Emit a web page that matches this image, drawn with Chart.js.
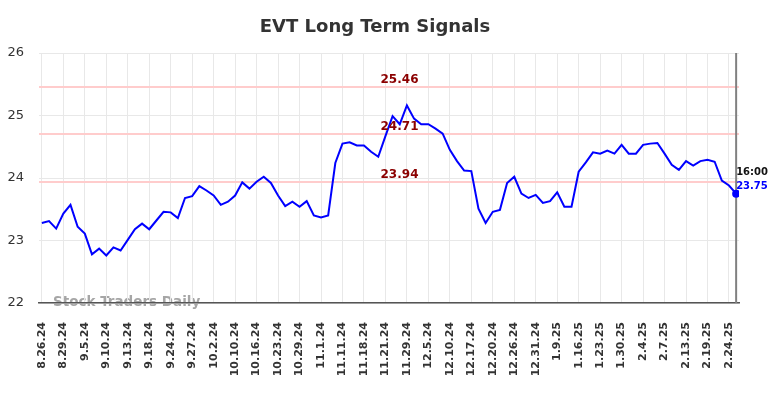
<!DOCTYPE html>
<html>
<head>
<meta charset="utf-8">
<script src="https://cdn.jsdelivr.net/npm/chart.js@4.4.1/dist/chart.umd.min.js"></script>
<style>
  html, body { margin: 0; padding: 0; background: #fff; }
</style>
</head>
<body>
<canvas id="signalChart" width="784" height="398"></canvas>
<script>
// one label every third session
const tickLabels = ["8.26.24", "8.29.24", "9.5.24", "9.10.24", "9.13.24", "9.18.24", "9.24.24", "9.27.24",
    "10.2.24", "10.10.24", "10.16.24", "10.23.24", "10.29.24", "11.1.24", "11.11.24", "11.18.24", "11.21.24",
    "11.29.24", "12.5.24", "12.10.24", "12.17.24", "12.20.24", "12.26.24", "12.31.24", "1.9.25", "1.16.25",
    "1.23.25", "1.30.25", "2.4.25", "2.7.25", "2.13.25", "2.19.25", "2.24.25"];

const closes = [
    23.28, 23.31, 23.19, 23.43, 23.57, 23.22, 23.11, 22.78, 22.87, 22.76,
    22.89, 22.84, 23.01, 23.18, 23.27, 23.18, 23.32, 23.46, 23.45, 23.36,
    23.68, 23.71, 23.87, 23.80, 23.72, 23.57, 23.62, 23.72, 23.93, 23.83,
    23.94, 24.02, 23.92, 23.72, 23.55, 23.62, 23.54, 23.63, 23.40, 23.37,
    23.40, 24.24, 24.55, 24.57, 24.52, 24.52, 24.42, 24.34, 24.67, 24.99,
    24.86, 25.16, 24.95, 24.86, 24.86, 24.79, 24.71, 24.45, 24.27, 24.12,
    24.11, 23.51, 23.28, 23.46, 23.49, 23.92, 24.02, 23.75, 23.68, 23.73,
    23.60, 23.63, 23.77, 23.54, 23.54, 24.10, 24.25, 24.41, 24.39, 24.44,
    24.39, 24.53, 24.39, 24.39, 24.53, 24.55, 24.56, 24.39, 24.21, 24.13,
    24.27, 24.20, 24.27, 24.29, 24.26, 23.96, 23.88, 23.75
];

const signalLevels = [25.46, 24.71, 23.94];
const yTicks = [22, 23, 24, 25, 26];
const lastTime = "16:00";

const lastIdx = closes.length - 1;

const overlay = {
    id: "overlay",
    beforeDraw(chart) {
        const c = chart.ctx;
        c.save();
        c.font = "bold 13.5px 'DejaVu Sans'";
        c.fillStyle = "#a6a6a6";
        c.textAlign = "left";
        c.textBaseline = "middle";
        c.fillText("Stock Traders Daily", 53, 302);
        c.restore();
    },
    beforeDatasetsDraw(chart) {
        const c = chart.ctx;
        const area = chart.chartArea;
        const ys = chart.scales.y;
        const xs = chart.scales.x;
        c.save();
        c.strokeStyle = "#ffcccc";
        c.lineWidth = 2;
        signalLevels.forEach(v => {
            const py = Math.round(ys.getPixelForValue(v));
            c.beginPath();
            c.moveTo(area.left, py);
            c.lineTo(area.right, py);
            c.stroke();
        });
        // marker at the latest session
        const lx = xs.getPixelForValue(lastIdx);
        c.strokeStyle = "#808080";
        c.lineWidth = 2;
        c.beginPath();
        c.moveTo(lx, area.top);
        c.lineTo(lx, area.bottom);
        c.stroke();
        c.restore();
    },
    afterDatasetsDraw(chart) {
        const c = chart.ctx;
        const area = chart.chartArea;
        const ys = chart.scales.y;
        const xs = chart.scales.x;
        c.save();

        c.font = "bold 18px 'DejaVu Sans'";
        c.fillStyle = "#333";
        c.textAlign = "center";
        c.textBaseline = "middle";
        c.fillText("EVT Long Term Signals", 375, 27);

        c.font = "bold 12px 'DejaVu Sans'";
        c.fillStyle = "#8b0000";
        c.textBaseline = "bottom";
        const labelX = area.left + (area.right - area.left) * 0.515;
        signalLevels.forEach(v => {
            c.fillText(v.toFixed(2), labelX, ys.getPixelForValue(v) - 1);
        });

        const px = xs.getPixelForValue(lastIdx);
        const py = ys.getPixelForValue(closes[lastIdx]);
        c.textAlign = "left";
        c.font = "bold 10px 'DejaVu Sans'";
        c.fillStyle = "#111";
        c.fillText(lastTime, px, py - 16);
        c.fillStyle = "#0000ff";
        c.fillText(closes[lastIdx].toFixed(2), px, py - 2);
        c.restore();
    }
};

const ctx = document.getElementById("signalChart");

new Chart(ctx, {
    type: "line",
    data: {
        datasets: [
            {
                data: closes.map((v, i) => ({ x: i, y: v })),
                borderColor: "#0000ff",
                borderWidth: 2,
                tension: 0,
                pointRadius: c => (c.dataIndex === lastIdx ? 4 : 0),
                pointBackgroundColor: "#0000ff",
                pointBorderWidth: 0
            }
        ]
    },
    options: {
        responsive: false,
        animation: false,
        layout: { padding: { top: 53, right: 45, left: 0, bottom: 0 } },
        plugins: {
            legend: { display: false },
            tooltip: { enabled: false },
            title: { display: false }
        },
        scales: {
            x: {
                type: "linear",
                min: -0.4,
                max: lastIdx + 0.4,
                afterFit: s => { s.height = 95; },
                grid: { color: "#e8e8e8", drawTicks: false },
                border: { color: "#555", width: 1.5 },
                ticks: {
                    stepSize: 3,
                    includeBounds: false,
                    autoSkip: false,
                    minRotation: 90,
                    maxRotation: 90,
                    padding: 19,
                    color: "#333",
                    font: { family: "'DejaVu Sans'", size: 11, weight: "bold" },
                    callback: v => tickLabels[v / 3]
                }
            },
            y: {
                min: yTicks[0],
                max: yTicks[yTicks.length - 1],
                afterFit: s => { s.width = 39; },
                grid: { color: "#e8e8e8", drawTicks: false },
                border: { display: false },
                ticks: {
                    stepSize: 1,
                    padding: 15,
                    color: "#333",
                    font: { family: "'DejaVu Sans'", size: 13 }
                }
            }
        }
    },
    plugins: [overlay]
});
</script>
</body>
</html>
